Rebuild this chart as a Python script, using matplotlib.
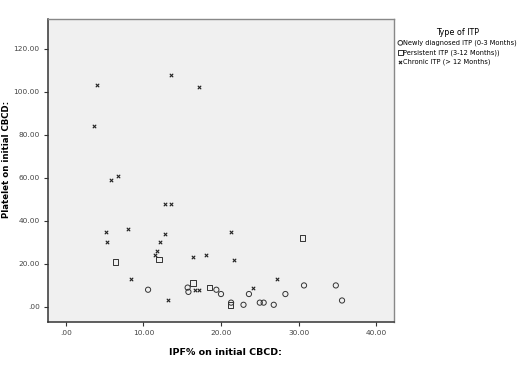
import matplotlib
matplotlib.use("Agg")
import matplotlib.pyplot as plt
from matplotlib.ticker import FuncFormatter

# IPF% vs platelet count, by ITP type
newly_x = [10.6, 15.7, 15.8, 19.4, 20.0, 21.3, 22.9, 23.6, 25.0, 25.5, 26.8, 28.3, 30.7, 34.8, 35.6]
newly_y = [8, 9, 7, 8, 6, 2, 1, 6, 2, 2, 1, 6, 10, 10, 3]

persist_x = [6.4, 12.0, 16.4, 18.5, 21.2, 30.5]
persist_y = [21, 22, 11, 9, 1, 32]

chronic_x = [4.0, 13.5, 17.1, 3.6, 5.8, 6.7, 12.8, 13.6, 5.2, 8.0, 5.3, 12.8, 12.1,
             11.7, 11.5, 21.3, 16.4, 18.1, 21.7, 8.4, 13.2, 16.7, 17.1, 24.1, 27.2]
chronic_y = [103, 108, 102, 84, 59, 61, 48, 48, 35, 36, 30, 34, 30,
             26, 24, 35, 23, 24, 22, 13, 3, 8, 8, 9, 13]

labels = ["Newly diagnosed ITP (0-3 Months)", "Persistent ITP (3-12 Months))", "Chronic ITP (> 12 Months)"]
xticks = [0, 10, 20, 30, 40]
yticks = [0, 20, 40, 60, 80, 100, 120]

fig = plt.figure(figsize=(5.2, 3.65), dpi=100)
ax = fig.add_axes([0.0923, 0.1178, 0.6654, 0.830])
ax.set_facecolor("#f0f0f0")

mc = "#333333"
ax.scatter(newly_x, newly_y, s=14, marker="o", facecolors="none", edgecolors=mc, linewidths=0.7, label=labels[0])
ax.scatter(persist_x, persist_y, s=16, marker="s", facecolors="none", edgecolors=mc, linewidths=0.7, label=labels[1])
ax.scatter(chronic_x, chronic_y, s=6, marker="x", color="#222222", linewidths=0.8, label=labels[2])

ax.set_xlim(-2.3, 42.3)
ax.set_ylim(-7, 133.8)
ax.set_xticks(xticks)
ax.set_yticks(yticks)

def fmt(v, pos):
    s = "%.2f" % v
    if s.startswith("0."):
        s = s[1:]
    return s

ax.xaxis.set_major_formatter(FuncFormatter(fmt))
ax.yaxis.set_major_formatter(FuncFormatter(fmt))
ax.tick_params(direction="out", length=3, width=0.8, labelsize=5.3, labelcolor="#444444", color="#333333", pad=3)

for side in ["left", "bottom"]:
    ax.spines[side].set_color("#333333")
    ax.spines[side].set_linewidth(1.1)
for side in ["top", "right"]:
    ax.spines[side].set_color("#888888")
    ax.spines[side].set_linewidth(1.0)

ax.set_xlabel("IPF% on initial CBCD:", fontsize=6.8, fontweight="bold")
ax.set_ylabel("Platelet on initial CBCD:", fontsize=6.2, fontweight="bold")
ax.xaxis.set_label_coords(0.512, -0.085)
ax.yaxis.set_label_coords(-0.108, 0.535)

leg = ax.legend(loc="upper left", bbox_to_anchor=(1.0, 0.985), frameon=False, fontsize=4.8,
                title="Type of ITP", title_fontsize=5.8, handletextpad=0.1, handlelength=0.7,
                borderaxespad=0.2, labelspacing=0.45, markerscale=0.9)

fig.savefig("out.png", dpi=100)
